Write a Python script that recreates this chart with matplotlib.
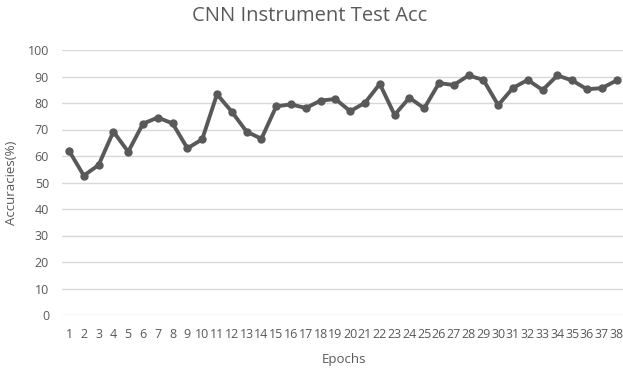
import numpy as np
import matplotlib.pyplot as plt

epochs = list(range(1, 39))
acc = [62.0, 52.6, 56.6, 69.2, 61.6, 72.2, 74.5, 72.3, 62.9, 66.3,
       83.3, 76.7, 69.2, 66.5, 78.7, 79.5, 78.1, 80.9, 81.5, 76.9,
       80.1, 87.2, 75.5, 82.0, 78.0, 87.5, 86.8, 90.4, 88.7, 79.2,
       85.7, 88.7, 84.9, 90.4, 88.5, 85.2, 85.6, 88.5]
yticks = list(range(0, 101, 10))

plt.rcParams['font.family'] = ['Open Sans', 'DejaVu Sans']

fig = plt.figure(figsize=(6.23, 3.71), dpi=100)
ax = fig.add_axes([61.6 / 623, 56 / 371, (624 - 61.6) / 623, 265 / 371])

ax.plot(epochs, acc, color='#595959', lw=2.8, marker='o', ms=5, zorder=3)

ax.set_xlim(0.5, 38.5)
ax.set_ylim(0, 100)
ax.set_yticks(yticks)
ax.set_xticks(epochs)
ax.set_xticklabels([str(e) for e in epochs])
ax.tick_params(axis='both', length=0, colors='#595959', labelsize=9)
ax.tick_params(axis='x', pad=9)
ax.tick_params(axis='y', pad=9)
ax.grid(axis='y', color='#d9d9d9', lw=1)
ax.set_axisbelow(True)
for s in ax.spines.values():
    s.set_visible(False)

fig.text(310 / 623, 1 - 16 / 371, 'CNN Instrument Test Acc', ha='center', va='center',
         fontsize=14.5, color='#595959')
fig.text(344 / 623, 1 - 360 / 371, 'Epochs', ha='center', va='center',
         fontsize=9.5, color='#595959')
fig.text(12 / 623, 1 - 183 / 371, 'Accuracies(%)', ha='center', va='center',
         rotation=90, fontsize=9.5, color='#595959')

fig.savefig('out.png', dpi=100)
